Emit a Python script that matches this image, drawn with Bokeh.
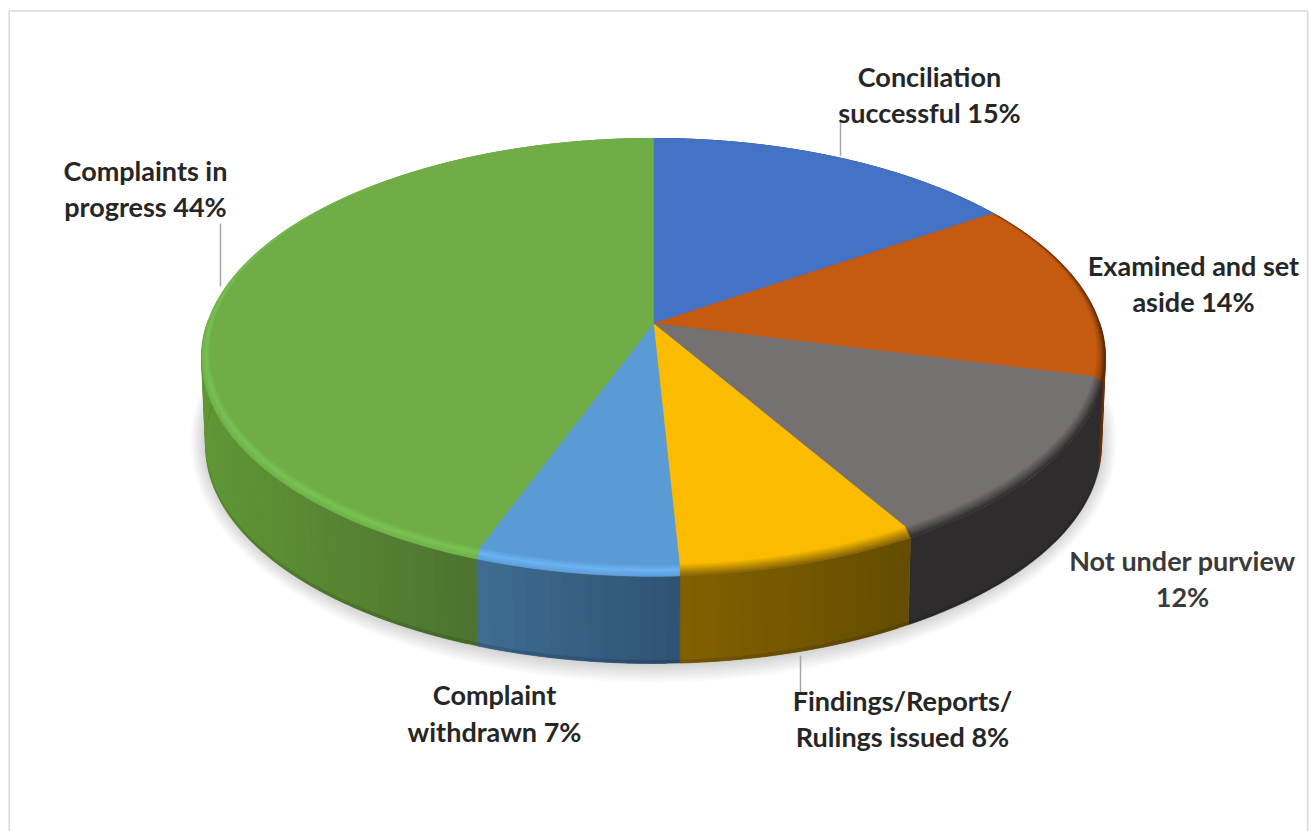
import numpy as np
from bokeh.plotting import figure
from bokeh.models import Range1d
from bokeh.core.properties import value
from bokeh.embed import file_html
from bokeh.resources import INLINE

# --- data -------------------------------------------------------------
categories = ["Conciliation successful", "Examined and set aside", "Not under purview",
              "Findings/Reports/Rulings issued", "Complaint withdrawn", "Complaints in progress"]
label_percent = [15, 14, 12, 8, 7, 44]
slice_share = [15.8, 13.5, 12.4, 7.5, 6.3, 44.5]   # shares as drawn in the picture
label_text = ["Conciliation\nsuccessful 15%", "Examined and set\naside 14%", "Not under purview\n12%",
              "Findings/Reports/\nRulings issued 8%", "Complaint\nwithdrawn 7%", "Complaints in\nprogress 44%"]
face_color = ["#4472c4", "#c55a11", "#767171", "#fbbc00", "#5b9bd5", "#70ad47"]
rim_mid = ["#4472c4", "#a04a0e", "#565252", "#c09000", "#6cb3f2", "#79c254"]
rim_edge = ["#4472c4", "#5e2a07", "#302e2e", "#86650a", "#5f9fdb", "#70b24a"]
side_from = ["#2f5090", "#6e3009", "#2e2c2d", "#836100", "#3f6d93", "#609735"]
side_to = ["#2f5090", "#5e2a07", "#2e2c2d", "#634c00", "#2f5273", "#4d7330"]

# --- page / geometry ---------------------------------------------------
W, H = 1309, 831
CX, APEX_Y = 653.0, 323.0
TOP_CY, TOP_RX, TOP_RY = 357.0, 452.0, 219.0
BOT_CY, BOT_RX, BOT_RY = 445.0, 448.0, 218.0
PK = 0.155          # perspective strength
PA, PB = 446.5, 213.7


def hex2rgb(h):
    return np.array([int(h[i:i + 2], 16) for i in (1, 3, 5)], float)


def mix(a, b, f):
    c = hex2rgb(a) * (1 - f) + hex2rgb(b) * f
    return "#%02x%02x%02x" % tuple(int(round(v)) for v in c)


def project(theta):
    w = 1 + PK * np.cos(theta)
    return PA * np.sin(theta) / w, PB * np.cos(theta) / w


def ellipse_param(theta):
    dx, dz = project(theta)
    return np.arctan2(dx / TOP_RX, (TOP_CY - (APEX_Y - dz)) / TOP_RY)


def rim_point(theta, s):
    t = ellipse_param(theta)
    rx = TOP_RX - 9 * (1 - s)
    bottom = TOP_CY + TOP_RY - 12 * (1 - s)
    ry = (bottom - (TOP_CY - TOP_RY)) / 2
    cy = (TOP_CY - TOP_RY) + ry
    return CX + rx * np.sin(t), cy - ry * np.cos(t)


def bottom_point(theta, lift=0.0):
    t = ellipse_param(theta)
    return CX + BOT_RX * np.sin(t), BOT_CY - lift - BOT_RY * np.cos(t)


p = figure(width=W, height=H, x_range=Range1d(0, W), y_range=Range1d(H, 0),
           output_backend="svg", toolbar_location=None, min_border=0,
           x_axis_location=None, y_axis_location=None, outline_line_color=None,
           background_fill_color="white", border_fill_color="white")
p.grid.visible = False

# frame of the picture
p.line([8.8, 8.8], [10.5, 831], line_color="#d9d9d9", line_width=1.6)
p.line([8.8, 1307.2], [10.5, 10.5], line_color="#d9d9d9", line_width=1.6)
p.line([1307.2, 1307.2], [10.5, 831], line_color="#d9d9d9", line_width=1.6)

# soft shadow
ts = np.linspace(0, 2 * np.pi, 240)
sx, sy = [], []
for g in np.linspace(1, 0, 12):
    sx.append(CX + (448 + 15 * g) * np.cos(ts))
    sy.append(441 + (222 + 19 * g) * np.sin(ts))
p.patches(sx, sy, fill_color="#000000", fill_alpha=0.014, line_color=None)

# slice limits in share angle
edges = np.radians(np.concatenate([[0], np.cumsum(slice_share)]) * 3.6 / (sum(slice_share) / 100))

# side walls: narrow strips with a horizontal colour run
xs, ys, cols = [], [], []
for i in range(len(slice_share)):
    a0, a1 = edges[i], edges[i + 1]
    if side_from[i] == side_to[i]:
        th = np.linspace(a0, a1, 40)
        px, py = rim_point(th, 1.0)
        keep = py >= TOP_CY - 30
        if keep.sum() < 2:
            continue
        bx, by = bottom_point(th[keep])
        xs.append(np.concatenate([px[keep], bx[::-1]]))
        ys.append(np.concatenate([py[keep], by[::-1]]))
        cols.append(side_from[i])
        continue
    th = np.linspace(a0, a1, max(4, int((a1 - a0) * 45)))
    for j in range(len(th) - 1):
        lo, hi = th[j], th[min(j + 2, len(th) - 1)]
        tl = np.array([lo, hi])
        px, py = rim_point(tl, 1.0)
        if py.max() < TOP_CY - 30:
            continue
        bx, by = bottom_point(tl)
        xs.append(np.array([px[0], px[1], bx[1], bx[0]]))
        ys.append(np.array([py[0], py[1], by[1], by[0]]))
        # colour runs left to right on screen, so use the strip's screen x
        if i == 5:
            f = min(1.0, max(0.0, (px[0] - 205) / (478 - 205)))
        else:
            f = 1 - (j + 0.5) / (len(th) - 1)
        cols.append(mix(side_from[i], side_to[i], f))
p.patches(xs, ys, fill_color=cols, line_color=cols, line_width=0.4)

# darker lip along the foot of the wall
th = np.linspace(edges[1] + 0.9, edges[6] - 0.9, 200)
fx0, fy0 = bottom_point(th)
fx1, fy1 = bottom_point(th, lift=3.5)
p.patch(np.concatenate([fx0, fx1[::-1]]), np.concatenate([fy0, fy1[::-1]]),
        fill_color="#000000", fill_alpha=0.12, line_color=None)

# top face: nested wedges from the outer rim inwards
rim_steps = np.linspace(1.0, 0.0, 11)
for k, s in enumerate(rim_steps):
    wx, wy, wc = [], [], []
    for i in range(len(slice_share)):
        th = np.linspace(edges[i], edges[i + 1], max(24, int((edges[i + 1] - edges[i]) * 60)))
        ax, ay = rim_point(th, s)
        wx.append(np.concatenate([[CX], ax]))
        wy.append(np.concatenate([[APEX_Y], ay]))
        if s > 0.5:
            c = mix(rim_mid[i], rim_edge[i], (s - 0.5) / 0.5)
        else:
            c = mix(face_color[i], rim_mid[i], s / 0.5)
        wc.append(c)
    p.patches(wx, wy, fill_color=wc, line_color=wc, line_width=0.3)

# leader lines
for lx, ly in [([840, 840], [120, 155]), ([220, 220], [223, 286]), ([800, 800], [655, 692])]:
    p.line(lx, ly, line_color="#a6a6a6", line_width=1.5)

# labels
label_x = [929, 1193, 1182, 902, 494, 145]
label_y = [94, 283, 578, 718, 712.5, 188]
label_col = ["#262626", "#262626", "#3a3a3a", "#262626", "#262626", "#262626"]
p.text(label_x, label_y, text=label_text, text_font=value("Lato"), text_font_style="bold",
       text_font_size="27px", text_align="center", text_baseline="middle",
       text_line_height=1.1, text_color=label_col)

open("out.html", "w").write(file_html(p, INLINE))
